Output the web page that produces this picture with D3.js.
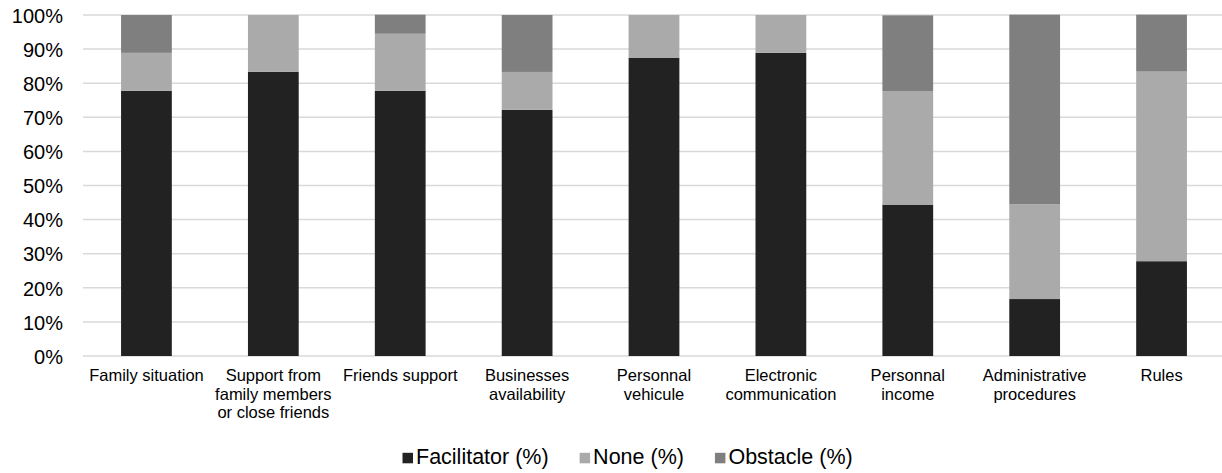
<!DOCTYPE html>
<html><head><meta charset="utf-8">
<script src="https://cdn.jsdelivr.net/npm/d3@7"></script>
<style>body{margin:0;background:#fff}svg{display:block}text{font-family:"Liberation Sans",Arial,sans-serif;fill:#000}</style>
</head><body>
<svg id="c" width="1222" height="473"></svg>
<script>
const categories = [
  ["Family situation"],
  ["Support from", "family members", "or close friends"],
  ["Friends support"],
  ["Businesses", "availability"],
  ["Personnal", "vehicule"],
  ["Electronic", "communication"],
  ["Personnal", "income"],
  ["Administrative", "procedures"],
  ["Rules"]
];
const seriesNames = ["Facilitator (%)", "None (%)", "Obstacle (%)"];
const facilitator = [77.8, 83.3, 77.8, 72.2, 87.5, 88.9, 44.4, 16.7, 27.8];
const none        = [11.1, 16.7, 16.7, 11.1, 12.5, 11.1, 33.3, 27.8, 55.6];
const obstacle    = [11.1, 0,    5.6,  16.7, 0,    0,    22.2, 55.6, 16.7];
const yTicks = [0,10,20,30,40,50,60,70,80,90,100];
const colors = ["#222222", "#aaaaaa", "#7f7f7f"];

const svg = d3.select("#c");
const keys = ["f","n","o"];
const rows = categories.map((c,i)=>({cat:i, f:facilitator[i], n:none[i], o:obstacle[i]}));
const stack = d3.stack().keys(keys)(rows);

const x = d3.scaleBand().domain(d3.range(categories.length)).range([83, 1225]).paddingInner(0.6).paddingOuter(0.3);
const y = d3.scaleLinear().domain([0,100]).range([356, 15]);

// gridlines
svg.append("g").selectAll("line").data(yTicks).join("line")
  .attr("x1", 83).attr("x2", 1222)
  .attr("y1", d=>y(d)).attr("y2", d=>y(d))
  .attr("stroke", "#d9d9d9").attr("stroke-width", 1.5);

// y axis labels
const yAxis = d3.axisLeft(y).tickValues(yTicks).tickFormat(d=>d+"%").tickSize(0).tickPadding(0);
const ya = svg.append("g").attr("transform","translate(63,0)").call(yAxis);
ya.select(".domain").remove();
ya.selectAll("text").attr("font-size", 20).attr("font-family", '"Liberation Sans",Arial,sans-serif').attr("fill","#000").attr("dy","0.36em");

// bars
svg.append("g").selectAll("g").data(stack).join("g")
  .attr("fill", (d,i)=>colors[i])
  .selectAll("rect").data(d=>d).join("rect")
  .attr("x", d=>x(d.data.cat))
  .attr("width", x.bandwidth())
  .attr("y", d=>y(d[1]))
  .attr("height", d=>y(d[0])-y(d[1]));

// x labels
const xl = svg.append("g").selectAll("text").data(categories).join("text")
  .attr("text-anchor","middle").attr("font-size", 16.5)
  .attr("transform", (d,i)=>`translate(${x(i)+x.bandwidth()/2},381)`);
xl.selectAll("tspan").data(d=>d).join("tspan")
  .attr("x", 0).attr("y", (d,j)=>j*18.6).text(d=>d);

// legend
const lg = svg.append("g");
let lx = 402.5;
seriesNames.forEach((name,i)=>{
  lg.append("rect").attr("x", lx).attr("y", 452.8).attr("width", 10.5).attr("height", 10.5).attr("fill", colors[i]);
  const t = lg.append("text").attr("x", lx+13.5).attr("y", 464.3).attr("font-size", 21.5).text(name);
  const w = t.node().getComputedTextLength();
  lx = lx + 13.5 + w + 31;
});
</script>
</body></html>
